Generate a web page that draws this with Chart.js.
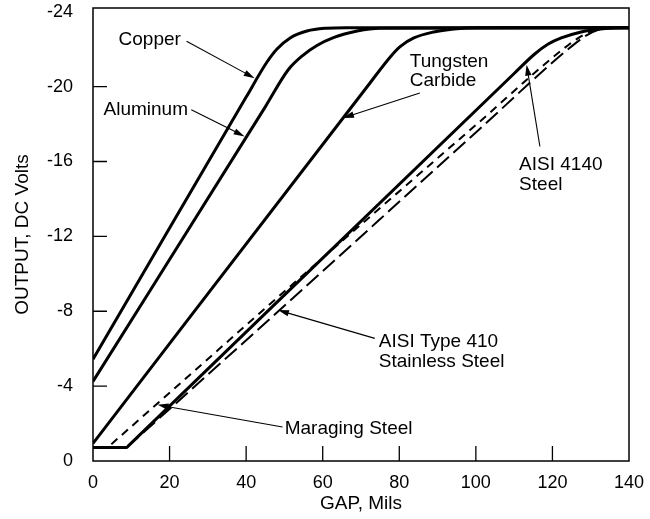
<!DOCTYPE html>
<html>
<head>
<meta charset="utf-8">
<script src="https://cdn.jsdelivr.net/npm/chart.js@4.4.1/dist/chart.umd.min.js"></script>
<style>
  body { margin: 0; background: #fff; }
</style>
</head>
<body>
<canvas id="gapChart" width="650" height="519"></canvas>
<script>
// probe output (DC volts) against gap (mils) for several target materials
const xTicks = [0, 20, 40, 60, 80, 100, 120, 140];
const yTicks = [0, -4, -8, -12, -16, -20, -24];

const copperGap = [0, 40, 45.4, 48, 51.5, 55.9, 61, 66, 140];
const copperOut = [-5.44, -19.44, -21.3, -22.0, -22.6, -22.97, -23.12, -23.15, -23.15];

const aluminumGap = [0, 45, 51, 55, 58.5, 62.8, 69, 75, 140];
const aluminumOut = [-4.25, -18.92, -20.9, -21.7, -22.2, -22.62, -22.97, -23.12, -23.15];

const tungstenGap = [0, 72, 77.7, 80.3, 83.8, 89, 94.3, 100, 140];
const tungstenOut = [-0.94, -20.1, -21.6, -22.15, -22.6, -22.92, -23.08, -23.15, -23.15];

const aisi4140Gap = [0, 8.8, 9.3, 110, 115.3, 118.8, 122.3, 127.5, 131.9, 136.2, 140];
const aisi4140Out = [-0.72, -0.72, -0.8185, -20.7, -21.73, -22.26, -22.6, -22.92, -23.06, -23.13, -23.15];

const maragingGap = [4.8, 60, 100, 124, 128, 131, 134, 140];
const maragingOut = [-0.9, -10.85, -17.95, -22.2, -22.75, -23.02, -23.15, -23.15];

const aisi410Gap = [8.8, 48.4, 100, 125, 129, 132, 135, 140];
const aisi410Out = [-0.72, -8.0, -17.55, -22.15, -22.75, -23.03, -23.15, -23.15];

// callouts: text anchor and arrow ends, in data units
const callouts = [
  { lines: ['Copper'], at: [6.67, -22.23], from: [24.44, -22.42], to: [42.22, -20.45] },
  { lines: ['Aluminum'], at: [2.75, -18.5], from: [25.67, -18.76], to: [39.6, -17.34] },
  { lines: ['Tungsten', 'Carbide'], at: [82.75, -21.06], from: [85.36, -19.66], to: [65.3, -18.32] },
  { lines: ['AISI 4140', 'Steel'], at: [111.3, -15.54], from: [116.73, -16.8], to: [113.25, -21.17] },
  { lines: ['AISI Type 410', 'Stainless Steel'], at: [74.64, -6.08], from: [73.6, -6.55], to: [48.31, -8.06] },
  { lines: ['Maraging Steel'], at: [50.07, -1.43], from: [49.5, -1.82], to: [16.86, -3.0] }
];

const FONT = '"Liberation Sans", Arial, Helvetica, sans-serif';

function pts(xs, ys) {
  return xs.map((x, i) => ({ x: x, y: ys[i] }));
}

function series(label, xs, ys, dash, width) {
  return {
    label: label,
    data: pts(xs, ys),
    borderColor: '#000',
    borderWidth: width,
    borderDash: dash,
    pointRadius: 0,
    fill: false,
    cubicInterpolationMode: 'monotone'
  };
}

// box around the plot plus inward tick marks
const frame = {
  id: 'frame',
  afterDatasetsDraw(chart) {
    const { ctx, chartArea: a, scales } = chart;
    ctx.save();
    ctx.strokeStyle = '#000';
    ctx.lineWidth = 1.5;
    ctx.strokeRect(a.left, a.top, a.right - a.left, a.bottom - a.top);
    ctx.lineWidth = 1.3;
    ctx.beginPath();
    xTicks.slice(1, -1).forEach(v => {
      const px = scales.x.getPixelForValue(v);
      ctx.moveTo(px, a.bottom);
      ctx.lineTo(px, a.bottom - 15);
    });
    yTicks.slice(1, -1).forEach(v => {
      const py = scales.y.getPixelForValue(v);
      ctx.moveTo(a.left, py);
      ctx.lineTo(a.left + 14, py);
    });
    ctx.stroke();
    ctx.restore();
  }
};

// material names with thin arrows pointing at their curves
const callout = {
  id: 'callout',
  afterDatasetsDraw(chart) {
    const { ctx, scales } = chart;
    const X = v => scales.x.getPixelForValue(v);
    const Y = v => scales.y.getPixelForValue(v);
    ctx.save();
    ctx.fillStyle = '#000';
    ctx.strokeStyle = '#000';
    ctx.font = '19px ' + FONT;
    ctx.textBaseline = 'alphabetic';
    ctx.textAlign = 'left';
    callouts.forEach(c => {
      c.lines.forEach((t, i) => ctx.fillText(t, X(c.at[0]), Y(c.at[1]) + i * 19.5));
      const x1 = X(c.from[0]), y1 = Y(c.from[1]);
      const x2 = X(c.to[0]), y2 = Y(c.to[1]);
      const ang = Math.atan2(y2 - y1, x2 - x1);
      ctx.lineWidth = 1.1;
      ctx.beginPath();
      ctx.moveTo(x1, y1);
      ctx.lineTo(x2 - 8 * Math.cos(ang), y2 - 8 * Math.sin(ang));
      ctx.stroke();
      ctx.beginPath();
      ctx.moveTo(x2, y2);
      ctx.lineTo(x2 - 11 * Math.cos(ang) + 3.2 * Math.sin(ang), y2 - 11 * Math.sin(ang) - 3.2 * Math.cos(ang));
      ctx.lineTo(x2 - 11 * Math.cos(ang) - 3.2 * Math.sin(ang), y2 - 11 * Math.sin(ang) + 3.2 * Math.cos(ang));
      ctx.closePath();
      ctx.fill();
    });
    ctx.restore();
  }
};

new Chart(document.getElementById('gapChart'), {
  type: 'line',
  data: {
    datasets: [
      series('Copper', copperGap, copperOut, [], 3),
      series('Aluminum', aluminumGap, aluminumOut, [], 3),
      series('Tungsten Carbide', tungstenGap, tungstenOut, [], 3),
      series('AISI 4140 Steel', aisi4140Gap, aisi4140Out, [], 3),
      series('Maraging Steel', maragingGap, maragingOut, [8, 6], 2),
      series('AISI Type 410 Stainless Steel', aisi410Gap, aisi410Out, [16, 6], 2)
    ]
  },
  options: {
    responsive: false,
    animation: false,
    layout: { padding: { top: 8, right: 21, left: 0, bottom: 0 } },
    plugins: {
      legend: { display: false },
      tooltip: { enabled: false }
    },
    scales: {
      x: {
        type: 'linear',
        min: 0,
        max: 140,
        afterBuildTicks: s => { s.ticks = xTicks.map(v => ({ value: v })); },
        afterFit: s => { s.height = 58; s.paddingLeft = 0; s.paddingRight = 0; },
        grid: { display: false },
        border: { display: false },
        ticks: { color: '#000', font: { family: FONT, size: 18 }, padding: 3, maxRotation: 0, autoSkip: false },
        title: { display: true, text: 'GAP, Mils', color: '#000', font: { family: FONT, size: 19 }, padding: { top: 0, bottom: 4 } }
      },
      y: {
        type: 'linear',
        min: -24.2,
        max: 0,
        reverse: true,
        afterBuildTicks: s => { s.ticks = yTicks.map(v => ({ value: v })); },
        afterFit: s => { s.width = 93; s.paddingTop = 0; s.paddingBottom = 0; },
        grid: { display: false },
        border: { display: false },
        ticks: { color: '#000', font: { family: FONT, size: 18 }, padding: 12, autoSkip: false },
        title: { display: true, text: 'OUTPUT, DC Volts', color: '#000', font: { family: FONT, size: 19 }, padding: { top: 11, bottom: 0 } }
      }
    }
  },
  plugins: [frame, callout]
});
</script>
</body>
</html>
